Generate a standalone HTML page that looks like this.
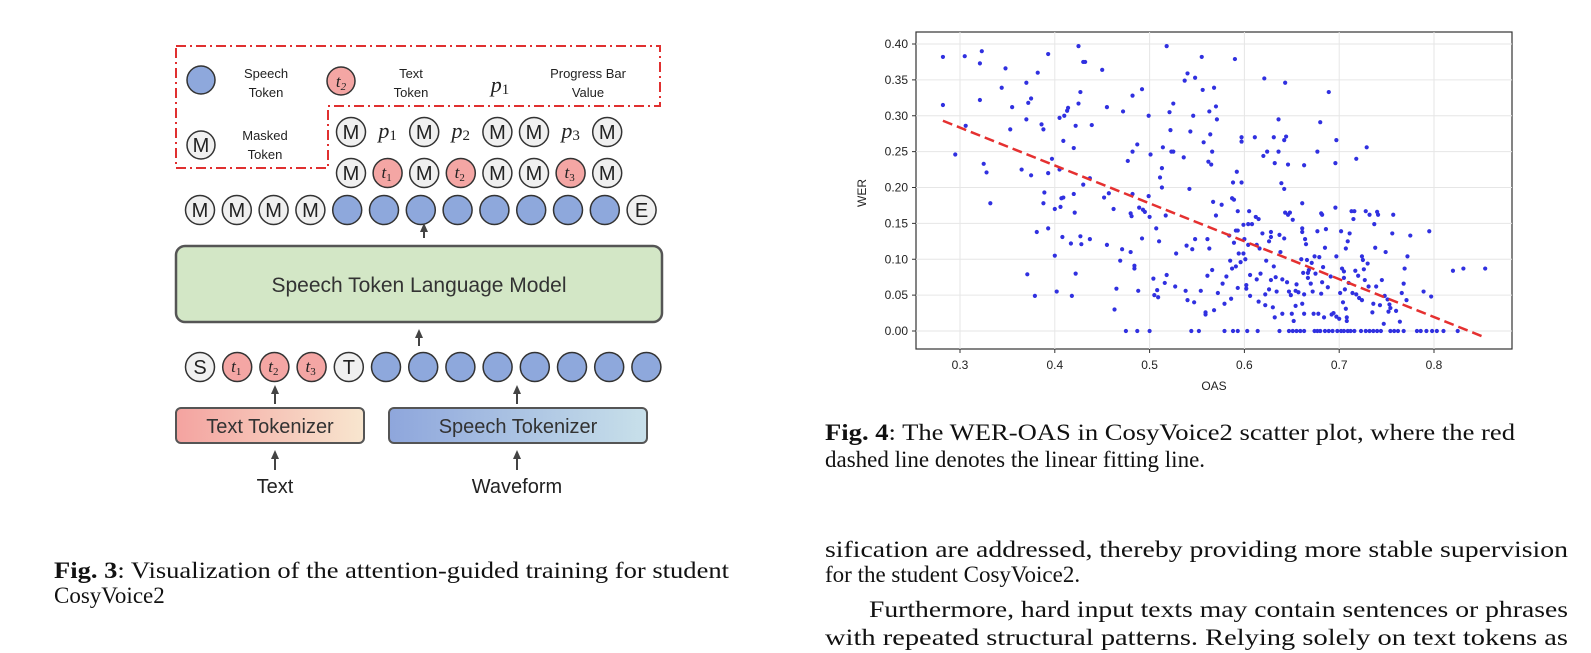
<!DOCTYPE html>
<html><head><meta charset="utf-8"><style>
html,body{margin:0;padding:0;background:#fff;width:1591px;height:653px;overflow:hidden}
svg{display:block}
.sans{font-family:"Liberation Sans",sans-serif}
.serif{font-family:"Liberation Serif",serif}
</style></head><body>
<svg id="page" width="1591" height="653" viewBox="0 0 1591 653" xmlns="http://www.w3.org/2000/svg">
<defs>
<linearGradient id="gText" x1="0" x2="1"><stop offset="0" stop-color="#f4a3a0"/><stop offset="1" stop-color="#f8e6cf"/></linearGradient>
<linearGradient id="gSpeech" x1="0" x2="1"><stop offset="0" stop-color="#8ea6dc"/><stop offset="1" stop-color="#c8e0ea"/></linearGradient>
<marker id="arr" markerUnits="userSpaceOnUse" markerWidth="10" markerHeight="10" refX="2" refY="5" orient="auto"><path d="M0,1 L9,5 L0,9 z" fill="#444"/></marker>
</defs>

<g id="diagram">
<path d="M176,46 H660 V106 H328 V168 H176 Z" fill="none" stroke="#e03030" stroke-width="2" stroke-dasharray="10,4,2,4"/>
<g class="sans" font-size="13" fill="#222" text-anchor="middle">
<circle cx="201" cy="80" r="14" fill="#8ea8dc" stroke="#333" stroke-width="1.5"/>
<text x="266" y="78">Speech</text><text x="266" y="97">Token</text>
<circle cx="341" cy="81" r="14" fill="#f4a6a4" stroke="#333" stroke-width="1.5"/>
<text x="341" y="87" font-size="17" font-style="italic" class="serif">t<tspan font-size="11" dy="3">2</tspan></text>
<text x="411" y="78">Text</text><text x="411" y="97">Token</text>
<text x="500" y="92" font-size="22" font-style="italic" class="serif">p<tspan font-size="15" font-style="normal" dy="2">1</tspan></text>
<text x="588" y="78">Progress Bar</text><text x="588" y="97">Value</text>
<circle cx="201" cy="145" r="14" fill="#f0f0f0" stroke="#333" stroke-width="1.5"/>
<text x="201" y="152" font-size="20">M</text>
<text x="265" y="140">Masked</text><text x="265" y="159">Token</text>
</g>
<g id="tokens" class="sans" text-anchor="middle" fill="#222"></g>
<line x1="424" y1="238" x2="424" y2="230" stroke="#444" stroke-width="2" marker-end="url(#arr)"/>
<rect x="176" y="246" width="486" height="76" rx="9" fill="#d3e7c6" stroke="#555" stroke-width="2.5"/>
<text x="419" y="292" class="sans" font-size="21" text-anchor="middle" fill="#333">Speech Token Language Model</text>
<line x1="419" y1="346" x2="419" y2="336" stroke="#444" stroke-width="2" marker-end="url(#arr)"/>
<line x1="275" y1="404" x2="275" y2="392" stroke="#444" stroke-width="2" marker-end="url(#arr)"/>
<line x1="517" y1="404" x2="517" y2="392" stroke="#444" stroke-width="2" marker-end="url(#arr)"/>
<rect x="176" y="408" width="188" height="35" rx="5" fill="url(#gText)" stroke="#555" stroke-width="2"/>
<text x="270" y="433" class="sans" font-size="20" text-anchor="middle" fill="#333">Text Tokenizer</text>
<rect x="389" y="408" width="258" height="35" rx="5" fill="url(#gSpeech)" stroke="#555" stroke-width="2"/>
<text x="518" y="433" class="sans" font-size="20" text-anchor="middle" fill="#333">Speech Tokenizer</text>
<line x1="275" y1="470" x2="275" y2="457" stroke="#444" stroke-width="2" marker-end="url(#arr)"/>
<line x1="517" y1="470" x2="517" y2="457" stroke="#444" stroke-width="2" marker-end="url(#arr)"/>
<text x="275" y="493" class="sans" font-size="20" text-anchor="middle" fill="#222">Text</text>
<text x="517" y="493" class="sans" font-size="20" text-anchor="middle" fill="#222">Waveform</text>
</g>

<g class="serif" font-size="23" fill="#111">
<text x="54" y="578" textLength="675" lengthAdjust="spacingAndGlyphs"><tspan font-weight="bold">Fig. 3</tspan>: Visualization of the attention-guided training for student</text>
<text x="54" y="603">CosyVoice2</text>
</g>

<g id="chart">
<rect x="916" y="32" width="596" height="317" fill="#fff" stroke="#333" stroke-width="1.2"/>
<g id="grid"></g><g id="ticks" class="sans" font-size="12" fill="#222"></g>
<g id="points"></g><g id="fit"></g>
<text x="1214" y="390" class="sans" font-size="12" fill="#222" text-anchor="middle">OAS</text>
<text class="sans" font-size="12" fill="#222" text-anchor="middle" transform="translate(866,193) rotate(-90)">WER</text>
</g>

<g class="serif" font-size="23" fill="#111">
<text x="825" y="440" textLength="690" lengthAdjust="spacingAndGlyphs"><tspan font-weight="bold">Fig. 4</tspan>: The WER-OAS in CosyVoice2 scatter plot, where the red</text>
<text x="825" y="467">dashed line denotes the linear fitting line.</text>
</g>
<g class="serif" font-size="23" fill="#111">
<text x="825" y="557" textLength="743" lengthAdjust="spacingAndGlyphs">sification are addressed, thereby providing more stable supervision</text>
<text x="825" y="582">for the student CosyVoice2.</text>
<text x="869" y="617" textLength="699" lengthAdjust="spacingAndGlyphs">Furthermore, hard input texts may contain sentences or phrases</text>
<text x="825" y="645" textLength="743" lengthAdjust="spacingAndGlyphs">with repeated structural patterns. Relying solely on text tokens as</text>
</g>
</svg>
<script>
const NS="http://www.w3.org/2000/svg";
function mk(tag,attrs,parent){const e=document.createElementNS(NS,tag);for(const k in attrs)e.setAttribute(k,attrs[k]);parent.appendChild(e);return e;}

const row1=["M","p1","M","p2","M","M","p3","M"];
const row2=["M","t1","M","t2","M","M","t3","M"];
const row3=["M","M","M","M","B","B","B","B","B","B","B","B","E"];
const row4=["S","t1","t2","t3","T","B","B","B","B","B","B","B","B"];
const tokG=document.getElementById("tokens");
function token(kind,cx,cy){
  const g=mk("g",{},tokG);
  
  
  if(kind[0]==="p"){const t=mk("text",{x:cx,y:cy+6,"font-size":22,"font-style":"italic",class:"serif"},g);t.textContent="p";const s=mk("tspan",{"font-size":15,"font-style":"normal",dy:2},t);s.textContent=kind[1];return;}
  const fill=kind==="B"?"#8ea8dc":(kind[0]==="t"?"#f4a6a4":"#f0f0f0");
  mk("circle",{cx:cx,cy:cy,r:14.5,fill:fill,stroke:"#333","stroke-width":1.5},g);
  if(kind==="B")return;
  if(kind[0]==="t"){const t=mk("text",{x:cx-1,y:cy+5,"font-size":17,"font-style":"italic",class:"serif"},g);t.textContent="t";const s=mk("tspan",{"font-size":11,"font-style":"normal",dy:3},t);s.textContent=kind[1];}
  else{const t=mk("text",{x:cx,y:cy+7,"font-size":20},g);t.textContent=kind;}
}
row1.forEach((k,i)=>token(k,351+i*36.6,132));
row2.forEach((k,i)=>token(k,351+i*36.6,173));
row3.forEach((k,i)=>token(k,200+i*36.8,210));
row4.forEach((k,i)=>token(k,200+i*37.2,367));

const xTicks=[0.3,0.4,0.5,0.6,0.7,0.8];
const yTicks=[0.00,0.05,0.10,0.15,0.20,0.25,0.30,0.35,0.40];
const fitLine=[[0.282,0.293],[0.852,-0.008]];
const oas=[0.282,0.282,0.295,0.305,0.306,0.321,0.323,0.321,0.325,0.328,0.332,0.344,0.348,0.353,0.355,0.365,0.370,0.370,0.372,0.375,0.371,0.375,0.379,0.381,0.382,0.386,0.388,0.388,0.389,0.393,0.393,0.393,0.397,0.400,0.400,0.402,0.405,0.405,0.406,0.407,0.409,0.408,0.409,0.410,0.413,0.414,0.417,0.418,0.420,0.420,0.421,0.422,0.422,0.425,0.425,0.427,0.427,0.428,0.430,0.430,0.432,0.437,0.437,0.439,0.450,0.452,0.455,0.455,0.457,0.462,0.463,0.465,0.469,0.471,0.472,0.475,0.477,0.480,0.480,0.481,0.482,0.482,0.484,0.484,0.482,0.487,0.488,0.487,0.489,0.492,0.492,0.493,0.495,0.499,0.499,0.500,0.500,0.501,0.504,0.505,0.507,0.508,0.509,0.510,0.511,0.513,0.513,0.514,0.516,0.517,0.518,0.518,0.521,0.522,0.523,0.525,0.525,0.527,0.528,0.536,0.537,0.538,0.539,0.540,0.540,0.542,0.543,0.544,0.545,0.546,0.547,0.548,0.548,0.552,0.554,0.555,0.556,0.557,0.559,0.559,0.561,0.561,0.562,0.563,0.563,0.564,0.565,0.566,0.566,0.567,0.568,0.568,0.570,0.570,0.571,0.572,0.576,0.577,0.579,0.579,0.581,0.584,0.585,0.586,0.587,0.587,0.588,0.588,0.589,0.589,0.590,0.591,0.591,0.592,0.593,0.593,0.593,0.593,0.594,0.596,0.597,0.597,0.597,0.599,0.599,0.600,0.601,0.602,0.602,0.603,0.604,0.604,0.605,0.606,0.606,0.608,0.611,0.612,0.613,0.613,0.614,0.615,0.615,0.616,0.617,0.619,0.620,0.621,0.622,0.622,0.623,0.624,0.626,0.626,0.628,0.628,0.628,0.630,0.631,0.631,0.632,0.632,0.633,0.634,0.636,0.636,0.637,0.637,0.638,0.639,0.640,0.640,0.642,0.642,0.642,0.643,0.643,0.644,0.645,0.646,0.646,0.647,0.647,0.648,0.649,0.650,0.651,0.651,0.652,0.654,0.654,0.655,0.655,0.657,0.659,0.660,0.661,0.661,0.661,0.661,0.662,0.663,0.663,0.663,0.663,0.664,0.665,0.666,0.667,0.667,0.668,0.670,0.671,0.672,0.673,0.674,0.674,0.675,0.677,0.677,0.677,0.678,0.679,0.680,0.680,0.681,0.681,0.682,0.682,0.683,0.684,0.685,0.685,0.686,0.688,0.689,0.689,0.691,0.692,0.693,0.694,0.696,0.696,0.697,0.697,0.697,0.698,0.700,0.701,0.702,0.702,0.703,0.704,0.705,0.705,0.705,0.706,0.707,0.707,0.708,0.708,0.709,0.709,0.710,0.711,0.712,0.713,0.714,0.715,0.716,0.716,0.717,0.718,0.718,0.720,0.721,0.723,0.724,0.724,0.725,0.726,0.727,0.728,0.728,0.729,0.730,0.731,0.732,0.732,0.735,0.736,0.736,0.737,0.738,0.739,0.740,0.740,0.741,0.743,0.744,0.745,0.747,0.748,0.749,0.751,0.752,0.753,0.754,0.754,0.756,0.757,0.758,0.760,0.762,0.764,0.766,0.768,0.768,0.769,0.771,0.772,0.775,0.782,0.786,0.789,0.792,0.795,0.797,0.798,0.803,0.810,0.820,0.825,0.831,0.854];
const wer=[0.382,0.315,0.246,0.383,0.286,0.373,0.390,0.322,0.233,0.221,0.178,0.339,0.366,0.281,0.312,0.225,0.346,0.295,0.318,0.324,0.079,0.217,0.049,0.138,0.360,0.288,0.281,0.178,0.193,0.386,0.220,0.143,0.240,0.105,0.170,0.055,0.297,0.225,0.173,0.185,0.186,0.131,0.265,0.300,0.307,0.311,0.122,0.049,0.255,0.191,0.165,0.286,0.080,0.397,0.317,0.333,0.132,0.121,0.204,0.375,0.375,0.213,0.128,0.287,0.364,0.186,0.312,0.120,0.192,0.170,0.030,0.059,0.098,0.114,0.306,0.000,0.237,0.110,0.164,0.160,0.250,0.328,0.091,0.087,0.191,0.260,0.056,0.000,0.172,0.129,0.337,0.169,0.166,0.300,0.188,0.159,0.000,0.246,0.073,0.050,0.143,0.057,0.047,0.125,0.214,0.227,0.200,0.256,0.067,0.161,0.078,0.397,0.305,0.280,0.250,0.317,0.250,0.062,0.108,0.242,0.349,0.056,0.119,0.359,0.043,0.198,0.278,0.000,0.114,0.300,0.040,0.128,0.353,0.000,0.056,0.382,0.336,0.263,0.026,0.023,0.128,0.077,0.236,0.115,0.306,0.274,0.232,0.250,0.085,0.180,0.339,0.029,0.161,0.313,0.295,0.053,0.176,0.066,0.038,0.000,0.076,0.133,0.098,0.045,0.185,0.087,0.000,0.207,0.183,0.123,0.379,0.140,0.090,0.222,0.167,0.140,0.060,0.000,0.108,0.096,0.270,0.264,0.207,0.148,0.108,0.128,0.100,0.064,0.059,0.000,0.149,0.120,0.167,0.049,0.078,0.149,0.270,0.159,0.120,0.072,0.000,0.041,0.156,0.115,0.080,0.136,0.244,0.352,0.051,0.036,0.098,0.250,0.125,0.058,0.071,0.138,0.131,0.033,0.090,0.270,0.234,0.019,0.075,0.055,0.295,0.250,0.134,0.000,0.110,0.206,0.072,0.024,0.129,0.266,0.198,0.165,0.346,0.271,0.068,0.232,0.162,0.055,0.000,0.165,0.050,0.024,0.155,0.000,0.014,0.056,0.035,0.065,0.000,0.054,0.000,0.100,0.143,0.178,0.138,0.038,0.081,0.024,0.000,0.051,0.231,0.128,0.121,0.099,0.081,0.074,0.085,0.066,0.095,0.055,0.024,0.104,0.000,0.080,0.250,0.139,0.000,0.024,0.103,0.291,0.000,0.164,0.052,0.068,0.162,0.089,0.019,0.116,0.000,0.142,0.061,0.000,0.333,0.076,0.023,0.000,0.025,0.172,0.234,0.266,0.020,0.104,0.000,0.017,0.053,0.139,0.000,0.087,0.040,0.074,0.000,0.083,0.058,0.115,0.031,0.014,0.019,0.125,0.000,0.067,0.136,0.000,0.167,0.053,0.156,0.167,0.000,0.084,0.051,0.240,0.077,0.046,0.000,0.104,0.043,0.099,0.086,0.071,0.167,0.000,0.256,0.094,0.062,0.162,0.000,0.026,0.038,0.000,0.149,0.116,0.062,0.166,0.000,0.162,0.036,0.000,0.071,0.010,0.049,0.110,0.044,0.027,0.037,0.000,0.032,0.136,0.162,0.000,0.028,0.000,0.013,0.053,0.000,0.066,0.087,0.043,0.104,0.133,0.000,0.000,0.055,0.000,0.139,0.048,0.000,0.000,0.000,0.084,0.000,0.087,0.087];

const X0=916,X1=1512,Y0=32,Y1=349;
const xScale=v=>960+(v-0.3)*948;
const yScale=v=>331-v*717.5;

const grid=document.getElementById("grid"),ticks=document.getElementById("ticks");
xTicks.forEach(v=>{
  const l=mk("line",{x1:xScale(v),x2:xScale(v),y1:Y0,y2:Y1,stroke:"#e6e6e6","stroke-width":1},grid);
  
  
  mk("line",{x1:xScale(v),x2:xScale(v),y1:Y1,y2:Y1+4,stroke:"#333"},ticks);
  const t=mk("text",{x:xScale(v),y:Y1+20,"text-anchor":"middle"},ticks);
  
  
  t.textContent=v.toFixed(1);
});
yTicks.forEach(v=>{
  const l=mk("line",{x1:X0,x2:X1,y1:yScale(v),y2:yScale(v),stroke:"#e6e6e6","stroke-width":1},grid);
  
  
  mk("line",{x1:X0-4,x2:X0,y1:yScale(v),y2:yScale(v),stroke:"#333"},ticks);
  const t=mk("text",{x:X0-8,y:yScale(v)+4,"text-anchor":"end"},ticks);
  
  
  t.textContent=v.toFixed(2);
});
const pts=document.getElementById("points");
oas.forEach((x,i)=>{
  const c=mk("circle",{cx:xScale(x),cy:yScale(wer[i]),r:2.1,fill:"#3030e0"},pts);
  
  
});
const fl=mk("line",{x1:xScale(fitLine[0][0]),y1:yScale(fitLine[0][1]),x2:xScale(fitLine[1][0]),y2:yScale(fitLine[1][1]),stroke:"#e53030","stroke-width":2.5,"stroke-dasharray":"10,5"},document.getElementById("fit"));


</script>
</body></html>
